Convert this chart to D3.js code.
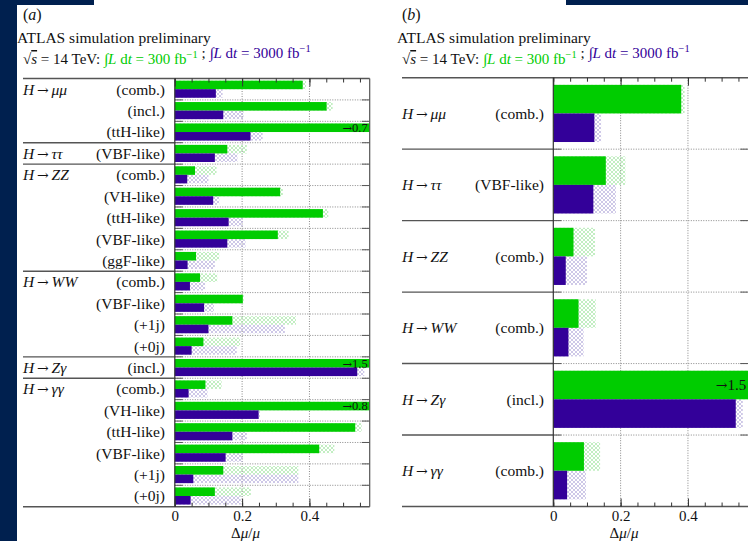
<!DOCTYPE html>
<html>
<head>
<meta charset="utf-8">
<title>ATLAS Higgs coupling projections</title>
<script src="https://cdn.jsdelivr.net/npm/d3@7"></script>
<style>
  html, body { margin: 0; padding: 0; background: #fff; }
  svg { display: block; }
  text { font-family: "Liberation Serif", "DejaVu Serif", serif; fill: #111; }
</style>
</head>
<body>
<div id="chart"></div>
<script>
// ---- data ----
var decays = ["μμ", "ττ", "ZZ", "WW", "Zγ", "γγ"];
var rowDecay = ["μμ", "μμ", "μμ", "ττ", "ZZ", "ZZ", "ZZ", "ZZ", "ZZ",
                "WW", "WW", "WW", "WW", "Zγ", "γγ", "γγ", "γγ", "γγ", "γγ", "γγ"];
var rowCategory = ["(comb.)", "(incl.)", "(ttH-like)", "(VBF-like)",
                   "(comb.)", "(VH-like)", "(ttH-like)", "(VBF-like)", "(ggF-like)",
                   "(comb.)", "(VBF-like)", "(+1j)", "(+0j)",
                   "(incl.)",
                   "(comb.)", "(VH-like)", "(ttH-like)", "(VBF-like)", "(+1j)", "(+0j)"];
// 300 fb-1 : solid bar, and hatched extension (incl. theory)
var lumi300 = [0.380, 0.451, 0.70, 0.156, 0.060, 0.313, 0.440, 0.306, 0.063,
               0.075, 0.202, 0.171, 0.085, 1.5, 0.091, 0.80, 0.536, 0.429, 0.144, 0.119];
var lumi300Th = [0.390, 0.469, 0.70, 0.214, 0.124, 0.321, 0.456, 0.338, 0.132,
                 0.126, 0.205, 0.360, 0.194, 1.5, 0.139, 0.80, 0.555, 0.474, 0.367, 0.226];
// 3000 fb-1
var lumi3000 = [0.122, 0.144, 0.225, 0.119, 0.037, 0.114, 0.160, 0.156, 0.038,
                0.045, 0.087, 0.100, 0.050, 0.542, 0.041, 0.249, 0.171, 0.151, 0.055, 0.047];
var lumi3000Th = [0.142, 0.204, 0.261, 0.186, 0.100, 0.132, 0.202, 0.210, 0.119,
                  0.090, 0.116, 0.327, 0.184, 0.563, 0.097, 0.253, 0.214, 0.202, 0.367, 0.196];
// rows shown in panel (b)
var panelBRows = [0, 3, 4, 9, 13, 14];
var majorTicks = [0, 0.2, 0.4];
var xMax = 0.579;

var green = "#00cc00", purple = "#330099";
var W = 748, H = 541;

var svg = d3.select("#chart").append("svg").attr("width", W).attr("height", H);

// background bits of the slide
svg.append("rect").attr("x", 0).attr("y", 0).attr("width", 17).attr("height", H).attr("fill", "#00204f");
svg.append("rect").attr("x", 0).attr("y", 0).attr("width", 94).attr("height", 5).attr("fill", "#00204f");
svg.append("rect").attr("x", 566).attr("y", 0).attr("width", 182).attr("height", 5).attr("fill", "#00204f");

// hatch patterns
var defs = svg.append("defs");
function hatch(id, col) {
  var p = defs.append("pattern").attr("id", id).attr("patternUnits", "userSpaceOnUse")
    .attr("width", 4).attr("height", 4);
  p.append("path").attr("d", "M0,0L4,4M4,0L0,4M-1,3L1,5M3,-1L5,1M-1,1L1,-1M3,5L5,3")
    .attr("stroke", col).attr("stroke-width", 0.7).attr("fill", "none");
}
hatch("hGreen", "#a8e6a8");
hatch("hPurple", "#b9b0dc");

function header(g, tag, tagX, titleX, subX) {
  g.append("text").attr("x", tagX).attr("y", 20).attr("font-size", 16)
    .html('(<tspan font-style="italic">' + tag + '</tspan>)');
  g.append("text").attr("x", titleX).attr("y", 43).attr("font-size", 15.5)
    .text("ATLAS simulation preliminary");
  var t = g.append("text").attr("x", subX).attr("y", 64).attr("font-size", 15);
  t.append("tspan").text("√");
  t.append("tspan").attr("font-style", "italic").style("text-decoration", "overline").text("s");
  t.append("tspan").text(" = 14 TeV: ");
  function lumi(val, col) {
    t.append("tspan").attr("fill", col).text("∫");
    t.append("tspan").attr("fill", col).attr("font-style", "italic").text("L");
    t.append("tspan").attr("fill", col).text(" d");
    t.append("tspan").attr("fill", col).attr("font-style", "italic").text("t");
    t.append("tspan").attr("fill", col).text(" = " + val + " fb");
    t.append("tspan").attr("fill", col).attr("font-size", 10.5).attr("dy", -6).text("−1");
    t.append("tspan").attr("dy", 6).text("");
  }
  lumi("300", green);
  t.append("tspan").text(" ; ");
  lumi("3000", purple);
}

function decayLabel(sel, d) {
  sel.append("tspan").attr("font-style", "italic").text("H");
  sel.append("tspan").attr("font-family", "DejaVu Serif, serif").attr("font-size", 14).text("\u2009→\u2009");
  sel.append("tspan").attr("font-style", "italic").text(d);
}

function panel(cfg) {
  var g = svg.append("g");
  header(g, cfg.tag, cfg.tagX, cfg.titleX, cfg.subX);

  var x = d3.scaleLinear().domain([0, xMax]).range([cfg.x0, cfg.x0 + (369.7 - 174.8)]);
  var y = d3.scaleBand().domain(cfg.rows).range([cfg.top, cfg.bottom]);
  var bw = y.bandwidth();
  var xr = x.range()[1];

  // dotted grid
  g.selectAll(".vgrid").data(majorTicks.slice(1)).enter().append("line")
    .attr("x1", function (d) { return x(d); }).attr("x2", function (d) { return x(d); })
    .attr("y1", cfg.top).attr("y2", cfg.bottom)
    .attr("stroke", "#888").attr("stroke-width", 1).attr("stroke-dasharray", "1,1.5");
  var bounds = cfg.rows.slice(1);
  g.selectAll(".hgrid").data(bounds).enter().append("line")
    .attr("x1", cfg.x0).attr("x2", xr)
    .attr("y1", function (d) { return y(d); }).attr("y2", function (d) { return y(d); })
    .attr("stroke", "#888").attr("stroke-width", 1).attr("stroke-dasharray", "1,1.5");

  // group separators in the label area + row ticks
  var groupBounds = bounds.filter(function (r) {
    var i = cfg.rows.indexOf(r);
    return rowDecay[r] !== rowDecay[cfg.rows[i - 1]];
  });
  g.selectAll(".sep").data(groupBounds).enter().append("line")
    .attr("x1", cfg.labelX).attr("x2", cfg.x0)
    .attr("y1", function (d) { return y(d); }).attr("y2", function (d) { return y(d); })
    .attr("stroke", "#555").attr("stroke-width", 1.4);
  g.selectAll(".ytl").data(bounds).enter().append("line")
    .attr("x1", cfg.x0).attr("x2", cfg.x0 + 8)
    .attr("y1", function (d) { return y(d); }).attr("y2", function (d) { return y(d); })
    .attr("stroke", "#555").attr("stroke-width", 1);
  g.selectAll(".ytr").data(bounds).enter().append("line")
    .attr("x1", xr - 8).attr("x2", xr)
    .attr("y1", function (d) { return y(d); }).attr("y2", function (d) { return y(d); })
    .attr("stroke", "#555").attr("stroke-width", 1);

  function clip(v) { return Math.min(v, xMax); }
  // hatched extensions
  g.selectAll(".h300").data(cfg.rows).enter().append("rect")
    .attr("x", x(0)).attr("y", function (d) { return y(d) + 0.1 * bw; })
    .attr("width", function (d) { return x(clip(lumi300Th[d])) - x(0); })
    .attr("height", 0.4 * bw).attr("fill", "url(#hGreen)");
  g.selectAll(".h3000").data(cfg.rows).enter().append("rect")
    .attr("x", x(0)).attr("y", function (d) { return y(d) + 0.5 * bw; })
    .attr("width", function (d) { return x(clip(lumi3000Th[d])) - x(0); })
    .attr("height", 0.4 * bw).attr("fill", "url(#hPurple)");
  // solid bars
  g.selectAll(".b300").data(cfg.rows).enter().append("rect")
    .attr("x", x(0)).attr("y", function (d) { return y(d) + 0.1 * bw; })
    .attr("width", function (d) { return x(clip(lumi300[d])) - x(0); })
    .attr("height", 0.4 * bw).attr("fill", green);
  g.selectAll(".b3000").data(cfg.rows).enter().append("rect")
    .attr("x", x(0)).attr("y", function (d) { return y(d) + 0.5 * bw; })
    .attr("width", function (d) { return x(clip(lumi3000[d])) - x(0); })
    .attr("height", 0.4 * bw).attr("fill", purple);

  // off-scale labels
  var off = g.selectAll(".off").data(cfg.rows.filter(function (d) { return lumi300[d] > xMax; })).enter()
    .append("text").attr("x", x(xMax) - 2).attr("y", function (d) { return y(d) + 0.3 * bw; })
    .attr("dy", "0.35em").attr("text-anchor", "end").attr("font-size", cfg.offSize).attr("fill", "#222");
  off.append("tspan").attr("font-family", "DejaVu Serif, serif").attr("font-size", cfg.offSize - 1).text("→");
  off.append("tspan").text(function (d) { return lumi300[d]; });

  // frame
  g.append("line").attr("x1", cfg.labelX).attr("x2", xr).attr("y1", cfg.top).attr("y2", cfg.top)
    .attr("stroke", "#555").attr("stroke-width", 1.4);
  g.append("line").attr("x1", cfg.labelX).attr("x2", xr).attr("y1", cfg.bottom).attr("y2", cfg.bottom)
    .attr("stroke", "#555").attr("stroke-width", 1.4);
  g.append("line").attr("x1", cfg.x0).attr("x2", cfg.x0).attr("y1", cfg.top).attr("y2", cfg.bottom)
    .attr("stroke", "#333").attr("stroke-width", 1.2);
  if (cfg.rightFrame) {
    g.append("line").attr("x1", xr).attr("x2", xr).attr("y1", cfg.top).attr("y2", cfg.bottom)
      .attr("stroke", "#555").attr("stroke-width", 1.2);
  }

  // axes ticks (minor every 0.05, major at labelled values)
  var minor = d3.range(0, xMax, 0.05);
  function ticks(pos, dir) {
    var ax = (dir > 0 ? d3.axisBottom(x) : d3.axisTop(x)).tickFormat("");
    var gm = g.append("g").attr("transform", "translate(0," + pos + ")")
      .call(ax.tickValues(minor).tickSize(4));
    gm.select(".domain").remove();
    gm.selectAll("line").attr("stroke", "#333");
    var gM = g.append("g").attr("transform", "translate(0," + pos + ")")
      .call(ax.tickValues(majorTicks).tickSize(8));
    gM.select(".domain").remove();
    gM.selectAll("line").attr("stroke", "#333");
  }
  ticks(cfg.top, 1);
  ticks(cfg.bottom, -1);

  var lab = g.append("g").attr("transform", "translate(0," + (cfg.bottom + 1) + ")")
    .call(d3.axisBottom(x).tickValues(majorTicks).tickSize(0).tickFormat(function (d) { return d === 0 ? "0" : d3.format(".1f")(d); }));
  lab.select(".domain").remove();
  lab.selectAll("text").attr("font-size", 15).attr("font-family", "Liberation Serif, serif").attr("fill", "#222");

  var title = g.append("text").attr("x", x(0.21)).attr("y", 538).attr("text-anchor", "middle").attr("font-size", 15);
  title.append("tspan").text("Δ");
  title.append("tspan").attr("font-style", "italic").text("μ");
  title.append("tspan").text("/");
  title.append("tspan").attr("font-style", "italic").text("μ");

  // row labels
  cfg.rows.forEach(function (r, i) {
    var cy = y(r) + bw / 2;
    if (i === 0 || rowDecay[r] !== rowDecay[cfg.rows[i - 1]] || cfg.allGroups) {
      var t = g.append("text").attr("x", cfg.labelX).attr("y", cy)
        .attr("dy", "0.35em").attr("font-size", 15.5);
      decayLabel(t, rowDecay[r]);
    }
    g.append("text").attr("x", cfg.catX).attr("y", cy).attr("dy", "0.35em")
      .attr("text-anchor", "end").attr("font-size", 15.5).text(rowCategory[r]);
  });
}

panel({
  tag: "a", tagX: 23, titleX: 17, subX: 23,
  labelX: 23, catX: 165, x0: 174.8, top: 78.5, bottom: 506.7,
  rows: d3.range(rowDecay.length), rightFrame: true, offSize: 12.5
});
panel({
  tag: "b", tagX: 402, titleX: 397, subX: 402,
  labelX: 402, catX: 544, x0: 553.3, top: 77.7, bottom: 506.5,
  rows: panelBRows, rightFrame: false, allGroups: true, offSize: 15
});
</script>
</body>
</html>
